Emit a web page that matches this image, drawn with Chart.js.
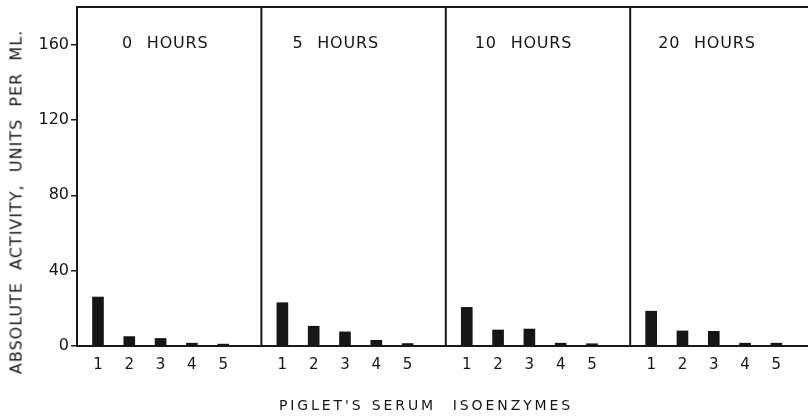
<!DOCTYPE html>
<html>
<head>
<meta charset="utf-8">
<script src="https://cdn.jsdelivr.net/npm/chart.js@4/dist/chart.umd.min.js"></script>
<style>
  html, body { margin: 0; padding: 0; background: #fff; }
  #wrap { position: relative; width: 808px; height: 416px; overflow: hidden; }
  #c { position: absolute; left: 0; top: 0; }
  .title { position: absolute; font-family: "DejaVu Sans", sans-serif; color: #151515; white-space: pre; }
  #ytitle { font-size: 16px; letter-spacing: 1px; left: 16px; top: 202px;
            transform: translate(-50%, -50%) rotate(-90deg); }
  #xtitle { font-size: 14px; letter-spacing: 2.9px; word-spacing: 1px; left: 426px; top: 405px;
            transform: translate(-50%, -50%); }
</style>
</head>
<body>
<div id="wrap">
  <canvas id="c" width="808" height="416"></canvas>
  <div class="title" id="ytitle">ABSOLUTE  ACTIVITY,  UNITS  PER  ML.</div>
  <div class="title" id="xtitle">PIGLET'S SERUM  ISOENZYMES</div>
</div>
<script>
// Sampling times (one panel each) and isoenzyme fractions
const panels = ['0 HOURS', '5 HOURS', '10 HOURS', '20 HOURS'];
const isoenzymes = ['1', '2', '3', '4', '5'];
const yTicks = [0, 40, 80, 120, 160];

// Absolute activity, units per ml, isoenzymes 1..5
const hours0  = [26, 5, 4, 1.5, 1];
const hours5  = [23, 10.5, 7.5, 3, 1.3];
const hours10 = [20.5, 8.5, 9, 1.5, 1.2];
const hours20 = [18.5, 8, 7.8, 1.5, 1.5];
const series = [hours0, hours5, hours10, hours20];

// Layout on the shared linear x axis: one unit per isoenzyme slot
const PANEL_WIDTH = 5.89;
const FIRST_BAR = 0.67;
const X_MAX = 23.35;

const xOf = (p, i) => p * PANEL_WIDTH + FIRST_BAR + i;

const datasets = series.map((vals, p) => ({
  label: panels[p],
  data: vals.map((v, i) => ({ x: xOf(p, i), y: v })),
  backgroundColor: '#161616',
  borderWidth: 0,
  barThickness: 11,
  grouped: false
}));

const tickPositions = [];
panels.forEach((_, p) => isoenzymes.forEach((_, i) => tickPositions.push(xOf(p, i))));

// Frame top edge, panel dividers and panel captions
const panelFrame = {
  id: 'panelFrame',
  afterDatasetsDraw(chart, args, opts) {
    const { ctx, chartArea: a, scales: { x } } = chart;
    ctx.save();
    ctx.strokeStyle = '#181818';
    ctx.lineWidth = 2;
    ctx.beginPath();
    ctx.moveTo(a.left, a.top);
    ctx.lineTo(a.right, a.top);
    for (let p = 1; p <= panels.length; p++) {
      const px = x.getPixelForValue(p * PANEL_WIDTH);
      if (px > a.right) continue;
      ctx.moveTo(px, a.top);
      ctx.lineTo(px, a.bottom);
    }
    ctx.stroke();

    ctx.fillStyle = '#151515';
    ctx.font = '16px "DejaVu Sans", sans-serif';
    ctx.textBaseline = 'middle';
    ctx.textAlign = 'left';
    if ('letterSpacing' in ctx) ctx.letterSpacing = '0.8px';
    if ('wordSpacing' in ctx) ctx.wordSpacing = '8px';
    panels.forEach((name, p) => {
      const left = x.getPixelForValue(p * PANEL_WIDTH);
      ctx.fillText(name, left + opts.captionOffsets[p], a.top + 37);
    });
    ctx.restore();
  }
};

new Chart(document.getElementById('c'), {
  type: 'bar',
  data: { datasets },
  plugins: [panelFrame],
  options: {
    responsive: false,
    animation: false,
    layout: { padding: { top: 7, right: 0, left: 0, bottom: 0 } },
    plugins: {
      legend: { display: false },
      tooltip: { enabled: false },
      panelFrame: { captionOffsets: [45, 31, 29, 28] }
    },
    scales: {
      x: {
        type: 'linear',
        min: 0,
        max: X_MAX,
        offset: false,
        afterBuildTicks: s => { s.ticks = tickPositions.map(v => ({ value: v })); },
        afterFit: s => { s.height = 70; s.paddingLeft = 0; s.paddingRight = 0; },
        grid: { display: false, drawTicks: false },
        border: { display: true, color: '#181818', width: 2 },
        ticks: {
          autoSkip: false,
          maxRotation: 0,
          padding: 10,
          color: '#151515',
          font: { family: '"DejaVu Sans", sans-serif', size: 15 },
          callback: (v, idx) => isoenzymes[idx % isoenzymes.length]
        }
      },
      y: {
        min: 0,
        max: 180,
        afterBuildTicks: s => { s.ticks = yTicks.map(v => ({ value: v })); },
        afterFit: s => { s.width = 77; s.paddingTop = 0; s.paddingBottom = 0; },
        grid: { drawOnChartArea: false, drawTicks: true, tickLength: 6, color: '#181818', lineWidth: 1.5 },
        border: { display: true, color: '#181818', width: 2 },
        ticks: {
          padding: 2,
          color: '#151515',
          font: { family: '"DejaVu Sans", sans-serif', size: 16 }
        }
      }
    }
  }
});
</script>
</body>
</html>
